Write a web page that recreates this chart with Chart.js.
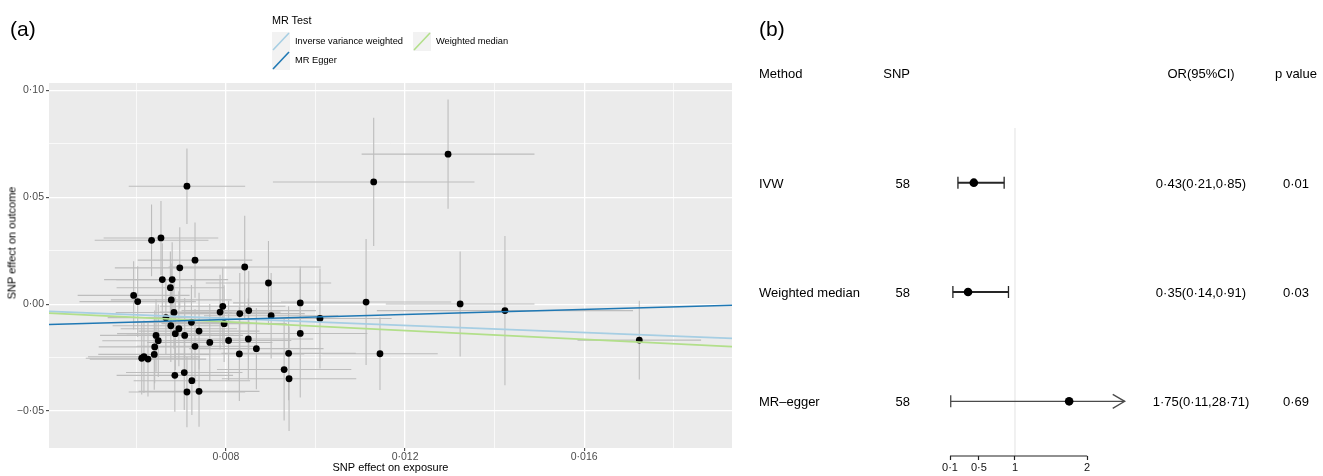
<!DOCTYPE html>
<html>
<head>
<meta charset="utf-8">
<script src="https://cdn.jsdelivr.net/npm/chart.js@4.4.1/dist/chart.umd.min.js"></script>
<style>
  body { margin: 0; background: #fff; }
  #wrap { position: relative; width: 1323px; height: 476px; background: #fff; font-family: 'Liberation Sans', Arial, sans-serif; overflow: hidden; }
  #wrap canvas { position: absolute; top: 0; }
  .txt { position: absolute; white-space: nowrap; line-height: 1; color: #000; }
  .key { position: absolute; width: 18px; height: 19px; background: #f2f2f2; }
</style>
</head>
<body>
<div id="wrap">
  <canvas id="scatterChart" width="740" height="476" style="left:0"></canvas>
  <canvas id="forestChart" width="583" height="476" style="left:740px"></canvas>
  <div id="overlay"></div>
</div>
<script>
// panel (a): SNP effects, one entry per SNP
const snpBetaExposure = [
  0.00713, 0.01130, 0.01296, 0.00634, 0.00655, 0.00731, 0.00697, 0.00842, 0.00658, 0.00680,
  0.00676, 0.00895, 0.00594, 0.00603, 0.00678, 0.00966, 0.01113, 0.00793, 0.00787, 0.00831,
  0.00851, 0.00901, 0.00684, 0.00666, 0.01010, 0.00723, 0.00796, 0.00677, 0.00695, 0.00740,
  0.00687, 0.00708, 0.00644, 0.00966, 0.00649, 0.00764, 0.00806, 0.00850, 0.00641, 0.00731,
  0.00868, 0.00640, 0.00830, 0.00940, 0.01144, 0.00612, 0.00617, 0.00626, 0.00930, 0.00686,
  0.00707, 0.00941, 0.00724, 0.00713, 0.00740, 0.01323, 0.01423, 0.01723
];
const snpSeExposure = [
  0.00130, 0.00225, 0.00193, 0.00127, 0.00128, 0.00128, 0.00145, 0.00170, 0.00130, 0.00125,
  0.00120, 0.00140, 0.00125, 0.00130, 0.00135, 0.00150, 0.00190, 0.00140, 0.00135, 0.00145,
  0.00150, 0.00150, 0.00130, 0.00130, 0.00160, 0.00130, 0.00140, 0.00130, 0.00130, 0.00135,
  0.00130, 0.00130, 0.00125, 0.00150, 0.00125, 0.00140, 0.00140, 0.00145, 0.00125, 0.00130,
  0.00150, 0.00125, 0.00145, 0.00150, 0.00129, 0.00125, 0.00125, 0.00130, 0.00150, 0.00130,
  0.00130, 0.00150, 0.00130, 0.00130, 0.00135, 0.00166, 0.00286, 0.00138
];
const snpBetaOutcome = [
  0.0552, 0.0572, 0.0702, 0.0299, 0.0310, 0.0206, 0.0170, 0.0174, 0.0115, 0.0115,
  0.0077, 0.0099, 0.0041, 0.0012, 0.0020, 0.0006, 0.0010, -0.0010, -0.0037, -0.0044,
  -0.0030, -0.0054, -0.0039, -0.0063, -0.0067, -0.0085, -0.0091, -0.0101, -0.0115, -0.0126,
  -0.0138, -0.0146, -0.0146, -0.0137, -0.0171, -0.0179, -0.0170, -0.0163, -0.0200, -0.0197,
  -0.0208, -0.0235, -0.0233, -0.0230, -0.0232, -0.0253, -0.0246, -0.0257, -0.0306, -0.0333,
  -0.0320, -0.0349, -0.0358, -0.0411, -0.0408, 0.0001, -0.0030, -0.0168
];
const snpSeOutcome = [
  0.0177, 0.0300, 0.0256, 0.0168, 0.0173, 0.0176, 0.0190, 0.0240, 0.0170, 0.0175,
  0.0170, 0.0197, 0.0160, 0.0165, 0.0170, 0.0170, 0.0295, 0.0180, 0.0175, 0.0190,
  0.0185, 0.0200, 0.0170, 0.0170, 0.0234, 0.0175, 0.0180, 0.0170, 0.0175, 0.0180,
  0.0170, 0.0175, 0.0170, 0.0300, 0.0170, 0.0180, 0.0185, 0.0190, 0.0170, 0.0175,
  0.0190, 0.0165, 0.0220, 0.0220, 0.0170, 0.0170, 0.0170, 0.0175, 0.0238, 0.0170,
  0.0175, 0.0244, 0.0160, 0.0165, 0.0165, 0.0246, 0.0349, 0.0184
];

// fitted lines, end points where they meet the panel edges
const ivwLineX = [0.00405, 0.0193];
const ivwLineY = [-0.0034, -0.0160];
const wmLineX = [0.00405, 0.0193];
const wmLineY = [-0.0042, -0.0199];
const eggerLineX = [0.00405, 0.0193];
const eggerLineY = [-0.0095, -0.0005];

const xMajorTicks = [0.008, 0.012, 0.016];
const xMinorTicks = [0.006, 0.010, 0.014, 0.018];
const yMajorTicks = [-0.05, 0, 0.05, 0.10];
const yMinorTicks = [-0.025, 0.025, 0.075];

// panel (b): forest plot
const methods = ['IVW', 'Weighted median', 'MR\u2013egger'];
const snpCounts = [58, 58, 58];
const orEstimate = [0.43, 0.35, 1.75];
const orLower = [0.21, 0.14, 0.11];
const orUpper = [0.85, 0.91, 28.71];
const pValues = [0.01, 0.03, 0.69];
const forestTicks = [0.1, 0.5, 1, 2];

const forestLimit = 2.52;   // intervals beyond this get an arrow

Chart.defaults.font.family = "'Liberation Sans', Arial, sans-serif";

function dotNum(v, digits) {
  const s = Math.abs(v).toFixed(digits).replace('.', '\u00b7');
  return v < 0 ? '\u2212' + s : s;
}
function inList(list, v) {
  return list.some(t => Math.abs(t - v) < 1e-9);
}

document.addEventListener('DOMContentLoaded', () => {
  initScatter();
  initForest();
  initLabels();
});

const panelBackground = {
  id: 'panelBackground',
  beforeDraw(chart) {
    const { ctx, chartArea } = chart;
    ctx.save();
    ctx.fillStyle = '#ebebeb';
    ctx.fillRect(chartArea.left, chartArea.top, chartArea.width, chartArea.height);
    ctx.restore();
  }
};

const errorBars = {
  id: 'errorBars',
  beforeDatasetsDraw(chart) {
    const { ctx, chartArea, scales: { x, y } } = chart;
    ctx.save();
    ctx.beginPath();
    ctx.rect(chartArea.left, chartArea.top, chartArea.width, chartArea.height);
    ctx.clip();
    ctx.strokeStyle = '#bdbdbd';
    ctx.lineWidth = 1.1;
    snpBetaExposure.forEach((bx, i) => {
      const by = snpBetaOutcome[i];
      const px = x.getPixelForValue(bx);
      const py = y.getPixelForValue(by);
      ctx.beginPath();
      ctx.moveTo(px, y.getPixelForValue(by - snpSeOutcome[i]));
      ctx.lineTo(px, y.getPixelForValue(by + snpSeOutcome[i]));
      ctx.moveTo(x.getPixelForValue(bx - snpSeExposure[i]), py);
      ctx.lineTo(x.getPixelForValue(bx + snpSeExposure[i]), py);
      ctx.stroke();
    });
    ctx.restore();
  }
};

function lineData(xs, ys) {
  return xs.map((x, i) => ({ x: x, y: ys[i] }));
}

function initScatter() {
  const ctx = document.getElementById('scatterChart').getContext('2d');
  const points = snpBetaExposure.map((x, i) => ({ x: x, y: snpBetaOutcome[i] }));
  const tickFont = { size: 10.5 };

  new Chart(ctx, {
    type: 'scatter',
    data: {
      datasets: [
        { label: 'MR Egger', data: lineData(eggerLineX, eggerLineY), showLine: true, borderColor: '#1f78b4', borderWidth: 1.7, pointRadius: 0, order: 0 },
        { label: 'Weighted median', data: lineData(wmLineX, wmLineY), showLine: true, borderColor: '#b2df8a', borderWidth: 1.7, pointRadius: 0, order: 1 },
        { label: 'Inverse variance weighted', data: lineData(ivwLineX, ivwLineY), showLine: true, borderColor: '#a6cee3', borderWidth: 1.7, pointRadius: 0, order: 2 },
        { label: 'SNP', data: points, backgroundColor: '#000', borderWidth: 0, pointRadius: 3.4, order: 3 }
      ]
    },
    options: {
      responsive: false,
      animation: false,
      devicePixelRatio: 1,
      events: [],
      layout: { padding: { top: 83, right: 8, left: 0, bottom: 0 } },
      plugins: { legend: { display: false }, tooltip: { enabled: false } },
      scales: {
        x: {
          type: 'linear',
          min: 0.00405,
          max: 0.0193,
          afterBuildTicks: s => { s.ticks = [...xMinorTicks, ...xMajorTicks].sort((a, b) => a - b).map(v => ({ value: v })); },
          afterFit: s => { s.height = 28; },
          border: { display: false },
          grid: {
            color: '#ffffff',
            lineWidth: c => inList(xMajorTicks, c.tick.value) ? 1.3 : 0.7,
            tickColor: c => inList(xMajorTicks, c.tick.value) ? '#333333' : 'rgba(0,0,0,0)',
            tickLength: 3,
            tickWidth: 1
          },
          ticks: {
            autoSkip: false,
            maxRotation: 0,
            padding: 0,
            color: '#4d4d4d',
            font: tickFont,
            callback: v => inList(xMajorTicks, v) ? dotNum(v, 3) : ''
          },
          title: { display: true, text: 'SNP effect on exposure', color: '#000', font: { size: 11 }, padding: { top: 0, bottom: 1 } }
        },
        y: {
          type: 'linear',
          min: -0.0673,
          max: 0.1035,
          afterBuildTicks: s => { s.ticks = [...yMinorTicks, ...yMajorTicks].sort((a, b) => a - b).map(v => ({ value: v })); },
          afterFit: s => { s.width = 49; },
          border: { display: false },
          grid: {
            color: '#ffffff',
            lineWidth: c => inList(yMajorTicks, c.tick.value) ? 1.3 : 0.7,
            tickColor: c => inList(yMajorTicks, c.tick.value) ? '#333333' : 'rgba(0,0,0,0)',
            tickLength: 3,
            tickWidth: 1
          },
          ticks: {
            autoSkip: false,
            padding: 2,
            color: '#4d4d4d',
            font: tickFont,
            callback: v => inList(yMajorTicks, v) ? dotNum(v, 2) : ''
          }
        }
      }
    },
    plugins: [panelBackground, errorBars]
  });
}

const forestMarks = {
  id: 'forestMarks',
  beforeDatasetsDraw(chart) {
    const { ctx, chartArea, scales: { x, y } } = chart;
    ctx.save();
    // line of no effect
    const x1 = x.getPixelForValue(1);
    ctx.strokeStyle = '#e2e2e2';
    ctx.lineWidth = 1;
    ctx.beginPath();
    ctx.moveTo(x1, chartArea.top);
    ctx.lineTo(x1, chartArea.bottom);
    ctx.stroke();
    // axis line between first and last tick
    ctx.strokeStyle = '#222';
    ctx.lineWidth = 1.2;
    ctx.beginPath();
    ctx.moveTo(x.getPixelForValue(forestTicks[0]), chartArea.bottom);
    ctx.lineTo(x.getPixelForValue(forestTicks[forestTicks.length - 1]), chartArea.bottom);
    ctx.stroke();

    methods.forEach((m, i) => {
      const py = y.getPixelForValue(i);
      const lo = x.getPixelForValue(orLower[i]);
      const clipped = orUpper[i] > forestLimit;
      const hi = x.getPixelForValue(Math.min(orUpper[i], forestLimit));
      ctx.strokeStyle = clipped ? '#4a4a4a' : '#262626';
      ctx.lineWidth = clipped ? 1.1 : 2;
      ctx.beginPath();
      ctx.moveTo(lo, py);
      ctx.lineTo(hi, py);
      ctx.stroke();
      ctx.lineWidth = 1.3;
      ctx.beginPath();
      ctx.moveTo(lo, py - 6);
      ctx.lineTo(lo, py + 6);
      if (clipped) {
        ctx.moveTo(hi - 12, py - 7);
        ctx.lineTo(hi, py);
        ctx.lineTo(hi - 12, py + 7);
      } else {
        ctx.moveTo(hi, py - 6);
        ctx.lineTo(hi, py + 6);
      }
      ctx.stroke();
    });
    ctx.restore();
  }
};

let forestChart;

function initForest() {
  const ctx = document.getElementById('forestChart').getContext('2d');
  forestChart = new Chart(ctx, {
    type: 'scatter',
    data: {
      datasets: [{
        label: 'OR',
        data: orEstimate.map((v, i) => ({ x: v, y: i })),
        backgroundColor: '#000',
        borderWidth: 0,
        pointRadius: 4.3
      }]
    },
    options: {
      responsive: false,
      animation: false,
      devicePixelRatio: 1,
      events: [],
      layout: { padding: { top: 128, left: 210, right: 192.5, bottom: 0 } },
      plugins: { legend: { display: false }, tooltip: { enabled: false } },
      scales: {
        x: {
          type: 'linear',
          min: 0.1,
          max: 2.6,
          afterBuildTicks: s => { s.ticks = forestTicks.map(v => ({ value: v })); },
          afterFit: s => { s.height = 20; },
          border: { display: false },
          grid: { drawOnChartArea: false, tickColor: '#222', tickLength: 4, tickWidth: 1.2 },
          ticks: {
            autoSkip: false,
            maxRotation: 0,
            padding: 1,
            color: '#111',
            font: { size: 11 },
            callback: v => String(v).replace('.', '\u00b7')
          }
        },
        y: { display: false, min: -0.5, max: 2.5, reverse: true }
      }
    },
    plugins: [forestMarks]
  });
}

function addText(txt, x, y, size, align) {
  const el = document.createElement('div');
  el.className = 'txt';
  el.textContent = txt;
  const tx = align === 'right' ? '-100%' : align === 'center' ? '-50%' : '0';
  el.style.left = x + 'px';
  el.style.top = y + 'px';
  el.style.fontSize = size + 'px';
  el.style.transform = `translate(${tx}, -50%)`;
  document.getElementById('overlay').appendChild(el);
  return el;
}

function addKey(x, y, color) {
  const el = document.createElement('div');
  el.className = 'key';
  el.style.left = x + 'px';
  el.style.top = y + 'px';
  el.innerHTML = `<svg width="18" height="19"><line x1="1" y1="18" x2="17" y2="1" stroke="${color}" stroke-width="1.6"/></svg>`;
  document.getElementById('overlay').appendChild(el);
}

function initLabels() {
  addText('(a)', 10, 28, 21, 'left');
  addText('(b)', 759, 28, 21, 'left');

  // legend of panel (a)
  addText('MR Test', 272, 20, 10.8, 'left');
  addKey(272, 32, '#a6cee3');
  addText('Inverse variance weighted', 295, 42, 9.3, 'left');
  addKey(272, 51, '#1f78b4');
  addText('MR Egger', 295, 61, 9.3, 'left');
  addKey(413, 32, '#b2df8a');
  addText('Weighted median', 436, 42, 9.3, 'left');

  // y title of panel (a)
  const yt = addText('SNP effect on outcome', 12, 243, 11, 'center');
  yt.style.transform = 'translate(-50%, -50%) rotate(-90deg)';

  // table of panel (b), rows follow the forest y scale
  const yScale = forestChart.scales.y;
  const left = 740;
  const headY = yScale.getPixelForValue(-1);
  addText('Method', left + 19, headY, 13, 'left');
  addText('SNP', left + 170, headY, 13, 'right');
  addText('OR(95%CI)', left + 461, headY, 13, 'center');
  addText('p value', left + 556, headY, 13, 'center');
  methods.forEach((m, i) => {
    const py = yScale.getPixelForValue(i);
    addText(m, left + 19, py, 13, 'left');
    addText(String(snpCounts[i]), left + 170, py, 13, 'right');
    addText(`${dotNum(orEstimate[i], 2)}(${dotNum(orLower[i], 2)},${dotNum(orUpper[i], 2)})`, left + 461, py, 13, 'center');
    addText(dotNum(pValues[i], 2), left + 556, py, 13, 'center');
  });
}
</script>
</body>
</html>
